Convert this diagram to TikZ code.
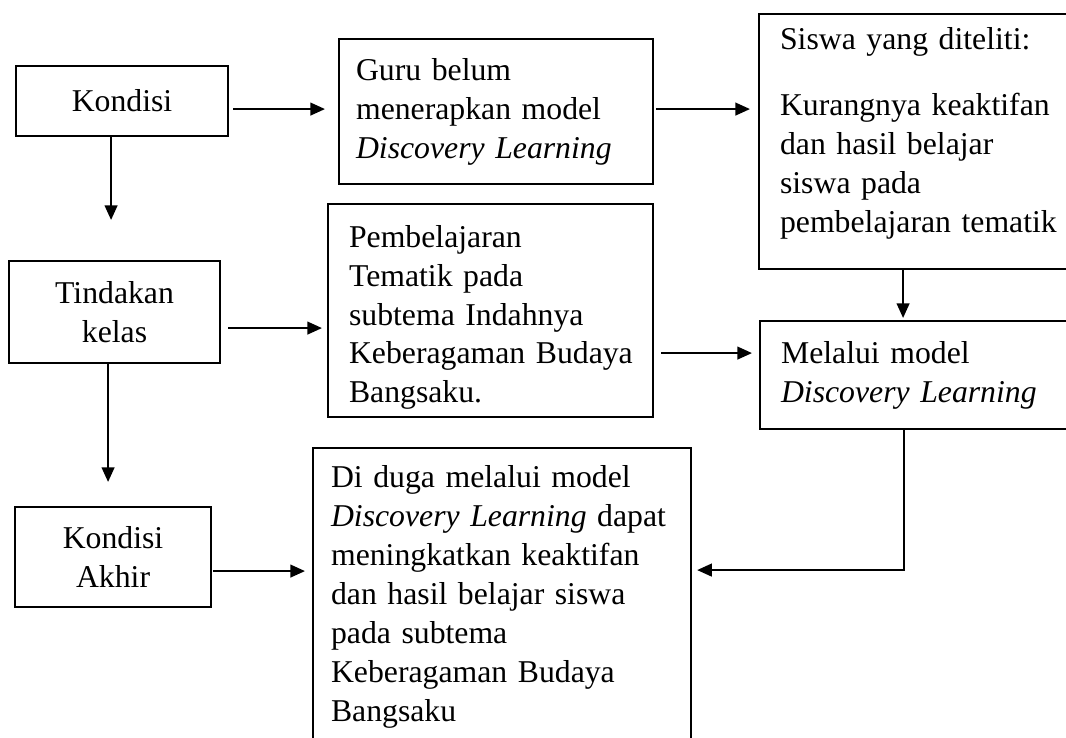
\documentclass[tikz,border=0pt]{standalone}
\usepackage{fontspec}
\setmainfont{Liberation Serif}
\usetikzlibrary{arrows.meta,calc}
\newcommand\boxfont{\fontsize{23.8pt}{29.2pt}\selectfont\hyphenpenalty=10000\relax\exhyphenpenalty=10000\relax}
\begin{document}
\begin{tikzpicture}[x=0.75pt,y=-0.75pt,
  box/.style={draw,line width=1.6pt,rectangle,anchor=north west,inner ysep=0pt,
    font=\boxfont},
  cbox/.style={box,align=center,inner xsep=0pt},
  lbox/.style={box,align=left},
  arr/.style={line width=1.6pt,-{Triangle[length=11pt,width=9.5pt]}}]
\useasboundingbox (0,0) rectangle (1066,738);
% left column
\node[cbox,minimum width=159pt,minimum height=52.5pt] (kondisi) at (15,65) {Kondisi};
\node[cbox,minimum width=158.25pt,minimum height=76.5pt] (tindakan) at (8,260) {Tindakan\\kelas};
\node[cbox,minimum width=147pt,minimum height=75pt] (akhir) at (14,506) {Kondisi\\Akhir};
% middle column
\node[lbox,inner xsep=12.75pt,text width=210pt,minimum width=235.5pt,minimum height=108.75pt] (guru) at (338,38)
  {Guru belum\\menerapkan model\\\textit{Discovery Learning}};
\node[lbox,inner xsep=15.75pt,text width=212.25pt,minimum width=243.75pt,minimum height=159.75pt] (pemb) at (327,203)
  {\mbox{}\\[-2.4pt]Pembelajaran\\Tematik pada\\subtema Indahnya\\\mbox{Keberagaman Budaya}\\Bangsaku.};
\node[lbox,inner xsep=13.5pt,text width=256.5pt,minimum width=283.5pt,minimum height=223.5pt] (duga) at (312,447)
  {Di duga melalui model\\\mbox{\textit{Discovery Learning} dapat}\\meningkatkan keaktifan\\dan hasil belajar siswa\\pada subtema\\Keberagaman Budaya\\Bangsaku};
% right column
\node[lbox,inner xsep=15.75pt,text width=217.5pt,minimum width=249pt,minimum height=191.25pt] (siswa) at (758,13)
  {Siswa yang diteliti:\\[20pt]Kurangnya keaktifan\\dan hasil belajar\\siswa pada\\\mbox{pembelajaran tematik}\\[-12pt]\mbox{}};
\node[lbox,inner xsep=15.75pt,text width=216.75pt,minimum width=248.25pt,minimum height=81pt] (melalui) at (759,320)
  {Melalui model\\\textit{Discovery Learning}};
% connectors
\draw[arr] ($(kondisi.east)+(4,8)$) -- ($(guru.west)+(-13,-2.5)$);
\draw[arr] ($(guru.east)+(2,-2.5)$) -- ($(siswa.west)+(-8,-32.5)$);
\draw[arr] ($(kondisi.south)+(-11,0)$) -- ($(tindakan.north)+(-3.5,-40)$);
\draw[arr] ($(tindakan.east)+(7,16)$) -- ($(pemb.west)+(-5,17.5)$);
\draw[arr] ($(pemb.east)+(7,42.5)$) -- ($(melalui.west)+(-7,-22)$);
\draw[arr] ($(siswa.south)+(-22,0)$) -- ($(melalui.north)+(-22.5,-2)$);
\draw[arr] ($(tindakan.south)+(-6.5,0)$) -- ($(akhir.north)+(-5,-24)$);
\draw[arr] ($(akhir.east)+(1,14)$) -- ($(duga.west)+(-7,-26)$);
\draw[arr] ($(melalui.south)+(-21.5,0)$) |- ($(duga.east)+(5,-27)$);
\end{tikzpicture}
\end{document}
